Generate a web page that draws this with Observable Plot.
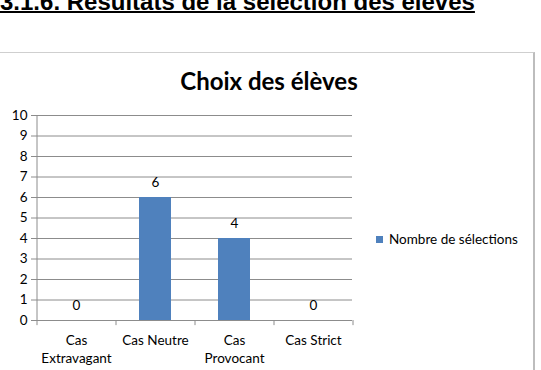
<!DOCTYPE html>
<html>
<head>
<meta charset="utf-8">
<script src="https://cdn.jsdelivr.net/npm/d3@7"></script>
<script src="https://cdn.jsdelivr.net/npm/@observablehq/plot@0.6"></script>
<style>
  html, body { margin: 0; padding: 0; background: #fff; width: 541px; height: 370px; overflow: hidden; }
  #heading { position: absolute; left: 0; top: -12px; font: bold 24px "Liberation Sans", Arial, sans-serif; text-decoration: underline; text-decoration-thickness: 2px; color: #000; white-space: nowrap; }
  #box { position: absolute; left: -2px; top: 52px; width: 537px; height: 340px; border: 1px solid #cfcfcf; border-right: 2px solid #bdbdbd; box-sizing: border-box; }
  #title { position: absolute; left: 0; width: 538px; top: 66px; text-align: center; font: bold 24px Lato, sans-serif; color: #000; }
  #chart { position: absolute; left: 0; top: 100px; }
  #legend { position: absolute; left: 376px; top: 231px; font: 13.5px Lato, sans-serif; color: #000; display: flex; align-items: center; white-space: nowrap; }
  #legend span.sw { display: inline-block; width: 7px; height: 7px; background: #4f81bd; margin-right: 6px; }
</style>
</head>
<body>
<div id="heading">3.1.6. Résultats de la sélection des élèves</div>
<div id="box"></div>
<div id="title">Choix des élèves</div>
<div id="chart"></div>
<div id="legend"><span class="sw"></span><span>Nombre de sélections</span></div>
<script>
const categories = ["Cas Extravagant", "Cas Neutre", "Cas Provocant", "Cas Strict"];
const xLabels = ["Cas\nExtravagant", "Cas Neutre", "Cas\nProvocant", "Cas Strict"];
const selections = [0, 6, 4, 0];
const yTicks = [0, 1, 2, 3, 4, 5, 6, 7, 8, 9, 10];
const seriesName = "Nombre de sélections";

const data = categories.map((c, i) => ({cat: c, value: selections[i], label: xLabels[i]}));

const W = 370, H = 270, ML = 36, MR = 18, MT = 15, MB = 50;
const step = (W - ML - MR) / categories.length;
const gridColor = "#8c8c8c";

const plot = Plot.plot({
  width: W, height: H,
  marginLeft: ML, marginRight: MR, marginTop: MT, marginBottom: MB,
  style: {fontFamily: "Lato, sans-serif", fontSize: "13px", color: "#000", background: "transparent", overflow: "visible"},
  x: {domain: categories, paddingInner: 0.595, paddingOuter: 0.2975, align: 0.5, axis: null},
  y: {domain: [0, 10], axis: null},
  marks: [
    Plot.gridY(yTicks, {stroke: gridColor, strokeOpacity: 1}),
    Plot.ruleX([categories[0]], {x: d => d, y1: 0, y2: 10, dx: -step / 2, stroke: gridColor}),
    Plot.ruleX(categories, {x: d => d, y1: 0, y2: -0.25, dx: -step / 2, stroke: gridColor}),
    Plot.ruleX([categories[categories.length - 1]], {x: d => d, y1: 0, y2: -0.25, dx: step / 2, stroke: gridColor}),
    Plot.axisY(yTicks, {tickSize: 5, tickPadding: 4, stroke: gridColor, fill: "#000", fontSize: 13.5, label: null, tickFormat: d => String(d)}),
    Plot.barY(data, {x: "cat", y: "value", fill: "#4f81bd"}),
    Plot.text(data, {x: "cat", y: "value", text: d => String(d.value), dy: -15, fontSize: 13.5, fill: "#000"}),
    Plot.text(data, {x: "cat", y: 0, text: "label", dy: 12, lineHeight: 1.33, lineAnchor: "top", fontSize: 13.5, fill: "#000"})
  ]
});
document.getElementById("chart").appendChild(plot);
</script>
</body>
</html>
